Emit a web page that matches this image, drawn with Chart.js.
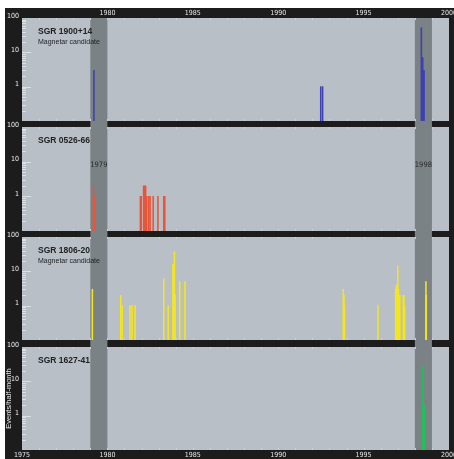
<!DOCTYPE html>
<html>
<head>
<meta charset="utf-8">
<script src="https://cdn.jsdelivr.net/npm/chart.js@4.4.0/dist/chart.umd.min.js"></script>
<style>
  html, body { margin: 0; padding: 0; background: #fff; }
  #frame { position: absolute; left: 5px; top: 8px; width: 449px; height: 451px; background: #1c1c1c; }
  canvas { position: absolute; left: 5px; display: block; }
</style>
</head>
<body>
<div id="frame"></div>
<canvas id="p1" width="449" height="113" style="top:8px"></canvas>
<canvas id="p2" width="449" height="110" style="top:121px"></canvas>
<canvas id="p3" width="449" height="109" style="top:231px"></canvas>
<canvas id="p4" width="449" height="119" style="top:340px"></canvas>
<script>
// 1. DATA (events per half-month bin)
const xTickYears = [1975, 1980, 1985, 1990, 1995, 2000];
const yTickLabels = [1, 10, 100];
const bandYears = [[1979, 1980], [1998, 1999]];
const bandLabels = ['1979', '1998'];

const sgr1900Years  = [1979.21, 1992.49, 1992.6, 1998.38, 1998.42, 1998.46, 1998.5, 1998.54];
const sgr1900Counts = [3, 1, 1, 52, 7, 7, 3, 3];

const sgr0526Years  = [1979.18, 1979.26, 1981.93, 1981.98, 1982.12, 1982.18, 1982.24, 1982.3, 1982.42, 1982.5, 1982.68, 1982.96, 1983.3, 1983.36];
const sgr0526Counts = [2, 1, 1, 1, 2, 2, 2, 1, 1, 1, 1, 1, 1, 1];

const sgr1806Years  = [1979.12, 1980.78, 1980.86, 1981.32, 1981.44, 1981.62, 1983.3, 1983.56, 1983.84, 1983.88, 1983.92, 1983.96,
                       1984.23, 1984.54, 1993.81, 1993.85, 1993.88, 1995.84, 1996.88, 1996.92, 1996.96, 1997.0, 1997.04, 1997.08,
                       1997.12, 1997.32, 1997.36, 1997.4, 1998.65, 1998.67];
const sgr1806Counts = [3, 2, 1, 1, 1, 1, 6, 1, 16, 16, 37, 2,
                       5, 5, 3, 2, 1, 1, 3, 4, 3, 14, 3, 2,
                       2, 2, 2, 1, 5, 2];

const sgr1627Years  = [1998.46, 1998.5, 1998.54, 1998.58];
const sgr1627Counts = [27, 2, 2, 2];

// 2. HELPERS
const narrow = "'Liberation Sans Narrow', 'DejaVu Sans Condensed', Arial, sans-serif";
const plain = "'Liberation Sans', Arial, sans-serif";

function toPoints(years, counts) {
    return years.map(function(yr, i) { return { x: yr, y: counts[i] }; });
}

// panel background, grey bands, small ticks, titles
const panelDecor = {
    id: 'panelDecor',
    beforeDatasetsDraw(chart, args, opts) {
        const ctx = chart.ctx, a = chart.chartArea, xs = chart.scales.x, ys = chart.scales.y;
        ctx.save();
        ctx.fillStyle = '#b9bfc7';
        ctx.fillRect(a.left, a.top, a.right - a.left, a.bottom - a.top);

        const top = opts.first ? a.top : 0;
        const bottom = opts.last ? a.bottom : chart.height;
        ctx.fillStyle = '#7a8286';
        bandYears.forEach(function(b) {
            const x0 = xs.getPixelForValue(b[0]), x1 = xs.getPixelForValue(b[1]);
            ctx.fillRect(x0, top, x1 - x0, bottom - top);
        });

        // log minor ticks on the left edge
        ctx.strokeStyle = '#dde1e6';
        ctx.lineWidth = 1;
        [0.1, 1, 10].forEach(function(d) {
            for (let m = 1; m <= 9; m++) {
                const v = d * m;
                if (v <= 0.1) continue;
                const py = Math.round(ys.getPixelForValue(v)) + 0.5;
                const len = m === 1 ? 9 : 4;
                ctx.beginPath();
                ctx.moveTo(a.left, py);
                ctx.lineTo(a.left + len, py);
                ctx.stroke();
            }
        });

        // year ticks along top and bottom edges
        ctx.strokeStyle = '#ccd1d6';
        for (let yr = 1976; yr < 2000; yr++) {
            const px = Math.round(xs.getPixelForValue(yr)) + 0.5;
            ctx.beginPath();
            ctx.moveTo(px, a.top); ctx.lineTo(px, a.top + 2);
            ctx.moveTo(px, a.bottom); ctx.lineTo(px, a.bottom - 2);
            ctx.stroke();
        }
        ctx.restore();
    },
    afterDatasetsDraw(chart, args, opts) {
        const ctx = chart.ctx, a = chart.chartArea, xs = chart.scales.x;
        ctx.save();
        ctx.fillStyle = '#222';
        ctx.textBaseline = 'middle';
        ctx.textAlign = 'left';
        ctx.font = 'bold 8.5px ' + plain;
        ctx.fillText(opts.name, a.left + 16, a.top + 14);
        if (opts.sub) {
            ctx.font = '7px ' + plain;
            ctx.fillText(opts.sub, a.left + 16, a.top + 24.5);
        }
        if (opts.bandText) {
            ctx.font = '7.5px ' + narrow;
            ctx.textAlign = 'center';
            ctx.fillStyle = '#2b2b2b';
            bandYears.forEach(function(b, i) {
                const cx = (xs.getPixelForValue(b[0]) + xs.getPixelForValue(b[1])) / 2;
                ctx.fillText(bandLabels[i], cx, a.top + 38);
            });
        }
        ctx.restore();
    }
};

// 3. CHART BUILDER
function makePanel(id, cfg) {
    const ctx = document.getElementById(id).getContext('2d');
    return new Chart(ctx, {
        type: 'bar',
        data: {
            datasets: [{
                data: toPoints(cfg.years, cfg.counts),
                backgroundColor: cfg.color,
                borderWidth: 0,
                barThickness: 0.9,
                grouped: false
            }]
        },
        options: {
            responsive: false,
            animation: false,
            layout: { padding: { top: cfg.padTop, right: 5, bottom: 0, left: 0 } },
            plugins: {
                legend: { display: false },
                tooltip: { enabled: false },
                panelDecor: { name: cfg.name, sub: cfg.sub, first: cfg.first, last: cfg.last, bandText: cfg.bandText }
            },
            scales: {
                x: {
                    type: 'linear',
                    position: cfg.xPos,
                    display: cfg.xShow,
                    min: 1975,
                    max: 2000,
                    offset: false,
                    grid: { display: false, drawTicks: false, offset: false },
                    border: { display: false },
                    afterBuildTicks: function(scale) {
                        scale.ticks = xTickYears.map(function(v) { return { value: v }; });
                    },
                    afterFit: function(scale) {
                        scale.height = cfg.xHeight;
                        scale.paddingLeft = 0;
                        scale.paddingRight = 0;
                    },
                    ticks: {
                        autoSkip: false,
                        maxRotation: 0,
                        padding: 1,
                        color: '#e6e6e6',
                        font: { family: narrow, size: 7 },
                        callback: function(v) {
                            if (cfg.xPos === 'top' && v === 1975) return '';
                            return String(v);
                        }
                    }
                },
                y: {
                    type: 'logarithmic',
                    min: 0.1,
                    max: 100,
                    grid: { display: false, drawTicks: false },
                    border: { display: false },
                    afterFit: function(scale) {
                        scale.width = 17;
                        scale.paddingTop = 0;
                        scale.paddingBottom = 0;
                    },
                    title: {
                        display: !!cfg.yTitle,
                        text: cfg.yTitle || '',
                        color: '#e6e6e6',
                        padding: 0,
                        font: { family: plain, size: 7.5, lineHeight: 1 }
                    },
                    ticks: {
                        autoSkip: false,
                        padding: 3,
                        labelOffset: -2,
                        color: '#ececec',
                        font: { family: narrow, size: 7 },
                        callback: function(v) {
                            return yTickLabels.indexOf(v) >= 0 ? String(v) : '';
                        }
                    }
                }
            }
        },
        plugins: [panelDecor]
    });
}

// 4. PANELS
makePanel('p1', { name: 'SGR 1900+14', sub: 'Magnetar candidate', years: sgr1900Years, counts: sgr1900Counts,
    color: '#3d40b2', padTop: 0, xPos: 'top', xShow: true, xHeight: 10, first: true });
makePanel('p2', { name: 'SGR 0526-66', years: sgr0526Years, counts: sgr0526Counts,
    color: '#e8553a', padTop: 6, xPos: 'bottom', xShow: false, xHeight: 0, bandText: true });
makePanel('p3', { name: 'SGR 1806-20', sub: 'Magnetar candidate', years: sgr1806Years, counts: sgr1806Counts,
    color: '#f5e61c', padTop: 6, xPos: 'bottom', xShow: false, xHeight: 0 });
makePanel('p4', { name: 'SGR 1627-41', years: sgr1627Years, counts: sgr1627Counts,
    color: '#22c05c', padTop: 7, xPos: 'bottom', xShow: true, xHeight: 9, last: true, yTitle: 'Events/half-month' });
</script>
</body>
</html>
